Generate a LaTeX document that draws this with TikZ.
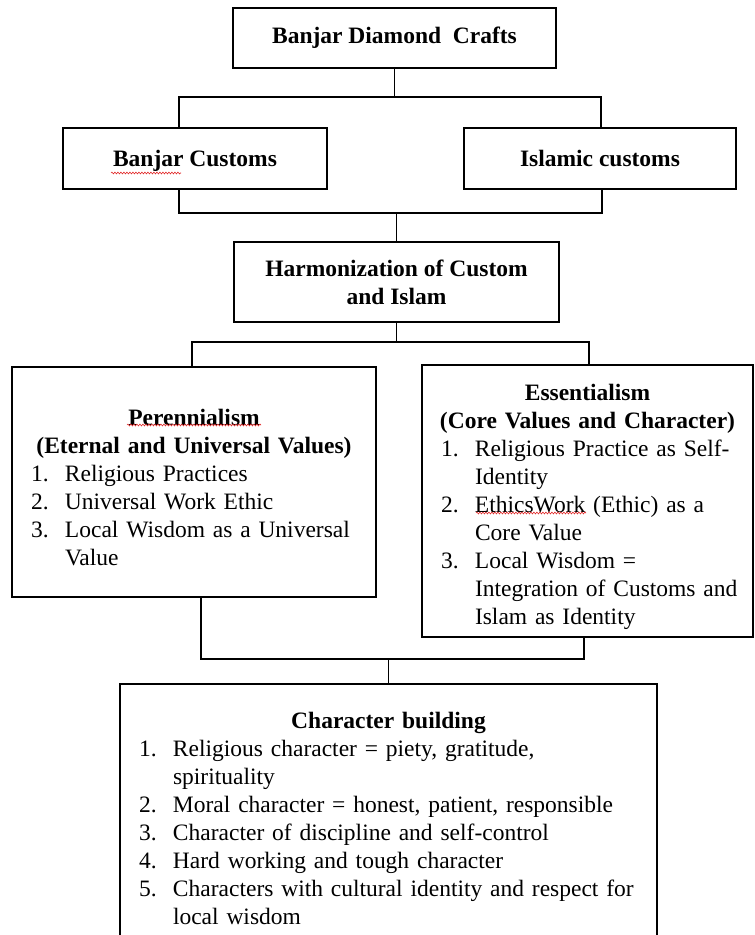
\documentclass[tikz,border=0pt]{standalone}
\usepackage{fontspec}
\setmainfont{Liberation Serif}
\usepackage{xcolor}
\usepackage{tikz}
\definecolor{spellred}{RGB}{225,40,40}
\usetikzlibrary{positioning, decorations.pathmorphing}
\newcommand{\boxtitle}[1]{\par\hbox to\hsize{\hss\textbf{#1}\hss}}
\newcommand{\listitem}[2]{\par\hangindent=34pt\hangafter=1\noindent\hbox to 34pt{#1.\hss}#2\par}
\tikzset{
    flowbox/.style={draw, line width=2pt, inner sep=0pt, align=center, font=\fontsize{23.5}{28}\selectfont},
    listbox/.style={flowbox, align=left},
    link/.style={line width=1.8pt},
    spellmark/.style={spellred, line width=0.6pt, decorate, decoration={snake, amplitude=0.9pt, segment length=3pt}}
}

\begin{document}
\begin{tikzpicture}[x=1pt, y=-1pt]
    \useasboundingbox (0,0) rectangle (755,935);

    \node[flowbox, minimum width=323pt, minimum height=60pt] (crafts) at (394.5,38) {\textbf{Banjar Diamond~ Crafts}};
    \node[flowbox, minimum width=264pt, minimum height=61pt, text height=17pt, text depth=1pt] (banjar) at (195,158.5) {\textbf{Banjar Customs}};
    \node[flowbox, minimum width=272pt, minimum height=61pt, text height=17pt, text depth=1pt] (islamic) at (600,158.5) {\textbf{Islamic customs}};
    \node[flowbox, minimum width=325pt, minimum height=80pt] (harmony) at (396.5,282) {\textbf{Harmonization of Custom}\\\textbf{and Islam}};

    \node[listbox, text width=326pt, minimum width=364pt, minimum height=230pt] (pere) at (194,482) {%
        \boxtitle{Perennialism}
        \boxtitle{(Eternal and Universal Values)}
        \listitem{1}{Religious Practices}
        \listitem{2}{Universal Work Ethic}
        \listitem{3}{\mbox{Local Wisdom as a Universal}\newline Value}};
    \node[listbox, text width=293pt, minimum width=331pt, minimum height=272pt] (esse) at (587.5,501) {%
        \boxtitle{Essentialism}
        \boxtitle{(Core Values and Character)}
        \listitem{1}{\mbox{Religious Practice as Self-}\newline Identity}
        \listitem{2}{\mbox{EthicsWork (Ethic) as a}\newline Core Value}
        \listitem{3}{Local Wisdom =\newline \mbox{Integration of Customs and}\newline Islam as Identity}};
    \node[listbox, text width=499pt, minimum width=537pt, minimum height=258pt] (character) at (388.5,813) {%
        \boxtitle{Character building}
        \listitem{1}{\mbox{Religious character = piety, gratitude,}\newline spirituality}
        \listitem{2}{\mbox{Moral character = honest, patient, responsible}}
        \listitem{3}{Character of discipline and self-control}
        \listitem{4}{Hard working and tough character}
        \listitem{5}{\mbox{Characters with cultural identity and respect for}\newline local wisdom}};

    \coordinate (splitL) at (179,97);
    \coordinate (splitR) at (601,97);
    \coordinate (joinL) at (179,213);
    \coordinate (joinR) at (602,213);
    \coordinate (forkL) at (192,342);
    \coordinate (forkR) at (589,342);
    \coordinate (mergeL) at (201,659);
    \coordinate (mergeR) at (584,659);

    \draw[link] (crafts.south) -- (crafts.south |- splitL);
    \draw[link] (splitL |- banjar.north) -- (splitL) -- (splitR) -- (splitR |- islamic.north);
    \draw[link] (joinL |- banjar.south) -- (joinL) -- (joinR) -- (joinR |- islamic.south);
    \draw[link] (harmony.north |- joinL) -- (harmony.north);
    \draw[link] (harmony.south) -- (harmony.south |- forkL);
    \draw[link] (forkL |- pere.north) -- (forkL) -- (forkR) -- (forkR |- esse.north);
    \draw[link] (mergeL |- pere.south) -- (mergeL) -- (mergeR) -- (mergeR |- esse.south);
    \draw[link] (character.north |- mergeL) -- (character.north);

    \draw[spellmark] (111,173) -- (181,173);
    \draw[spellmark] (127,425) -- (261,425);
    \draw[spellmark] (476,513) -- (586,513);
\end{tikzpicture}
\end{document}
